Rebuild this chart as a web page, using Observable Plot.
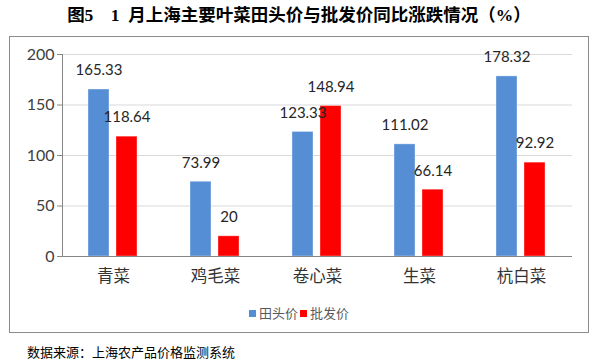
<!DOCTYPE html>
<html>
<head>
<meta charset="utf-8">
<script src="https://cdn.jsdelivr.net/npm/d3@7"></script>
<script src="https://cdn.jsdelivr.net/npm/@observablehq/plot@0.6"></script>
<style>
  html, body { margin: 0; padding: 0; background: #fff; }
  body { width: 598px; height: 363px; position: relative; overflow: hidden; font-family: "Noto Sans CJK SC", sans-serif; }
  #title { position: absolute; left: 0; top: 3px; width: 598px; text-align: center; font-size: 17.5px; font-weight: bold; color: #000; line-height: 24px; font-family: "Liberation Serif", "Noto Sans CJK SC", serif; white-space: nowrap; }
  #box { position: absolute; left: 9px; top: 36px; width: 580px; height: 297px; border: 1px solid #8c8c8c; box-sizing: border-box; }
  #chart { position: absolute; left: 0; top: 0; }
  #legend { position: absolute; left: 0; top: 267px; width: 578px; text-align: center; font-size: 13px; color: #595959; line-height: 18px; }
  #legend span.sw { display: inline-block; width: 7px; height: 7px; margin-right: 3px; vertical-align: 1px; }
  #legend span.item { margin: 0 1px; }
  #caption { position: absolute; left: 27px; top: 343px; font-size: 13px; color: #000; line-height: 18px; }
</style>
</head>
<body>
<div id="title">图5&emsp;1&nbsp;&nbsp;月上海主要叶菜田头价与批发价同比涨跌情况（%）</div>
<div id="box"><div id="chart"></div><div id="legend"></div></div>
<div id="caption">数据来源：上海农产品价格监测系统</div>
<script>
const categories = ["青菜", "鸡毛菜", "卷心菜", "生菜", "杭白菜"];
const seriesNames = ["田头价", "批发价"];
const fieldPrice = [165.33, 73.99, 123.33, 111.02, 178.32];
const wholesalePrice = [118.64, 20, 148.94, 66.14, 92.92];
const yTicks = [0, 50, 100, 150, 200];
const colors = ["#558ed5", "#ff0000"];

const data = categories.flatMap((c, i) => [
  {cat: c, series: seriesNames[0], value: fieldPrice[i]},
  {cat: c, series: seriesNames[1], value: wholesalePrice[i]}
]);

const numFont = "Lato, 'Open Sans', sans-serif";

const plot = Plot.plot({
  width: 578,
  height: 260,
  marginLeft: 51,
  marginRight: 16,
  marginTop: 17,
  marginBottom: 41,
  style: {background: "transparent", overflow: "visible"},
  fx: {domain: categories, padding: 0, label: null},
  x: {domain: seriesNames, paddingInner: 0.24, paddingOuter: 0.886, axis: null},
  y: {domain: [0, 200], label: null},
  color: {domain: seriesNames, range: colors},
  marks: [
    Plot.gridY(yTicks, {stroke: "#d9d9d9", strokeOpacity: 1}),
    Plot.barY(data, {fx: "cat", x: "series", y: "value", fill: "series", stroke: "#ffffff", strokeOpacity: 0.35, strokeWidth: 1, inset: 0}),
    Plot.ruleY([0], {stroke: "#868686"}),
    Plot.frame({anchor: "left", stroke: "#868686", facetAnchor: "left"}),
    Plot.axisY(yTicks, {tickSize: 5, tickPadding: 3, stroke: "#868686", fontSize: 16, fill: "#404040", fontFamily: numFont, label: null}),
    Plot.axisFx({anchor: "bottom", tickSize: 0, tickPadding: 14, fontSize: 16.5, fill: "#333", fontFamily: "'Noto Sans CJK SC', sans-serif", label: null}),
    Plot.text(data, {fx: "cat", x: "series", y: "value", text: d => String(d.value), dy: -19, fontSize: 15, fill: "#262626", fontFamily: numFont})
  ]
});
document.getElementById("chart").appendChild(plot);

const legend = document.getElementById("legend");
seriesNames.forEach((s, i) => {
  const item = document.createElement("span");
  item.className = "item";
  const sw = document.createElement("span");
  sw.className = "sw";
  sw.style.background = colors[i];
  item.appendChild(sw);
  item.appendChild(document.createTextNode(s));
  legend.appendChild(item);
});
</script>
</body>
</html>
